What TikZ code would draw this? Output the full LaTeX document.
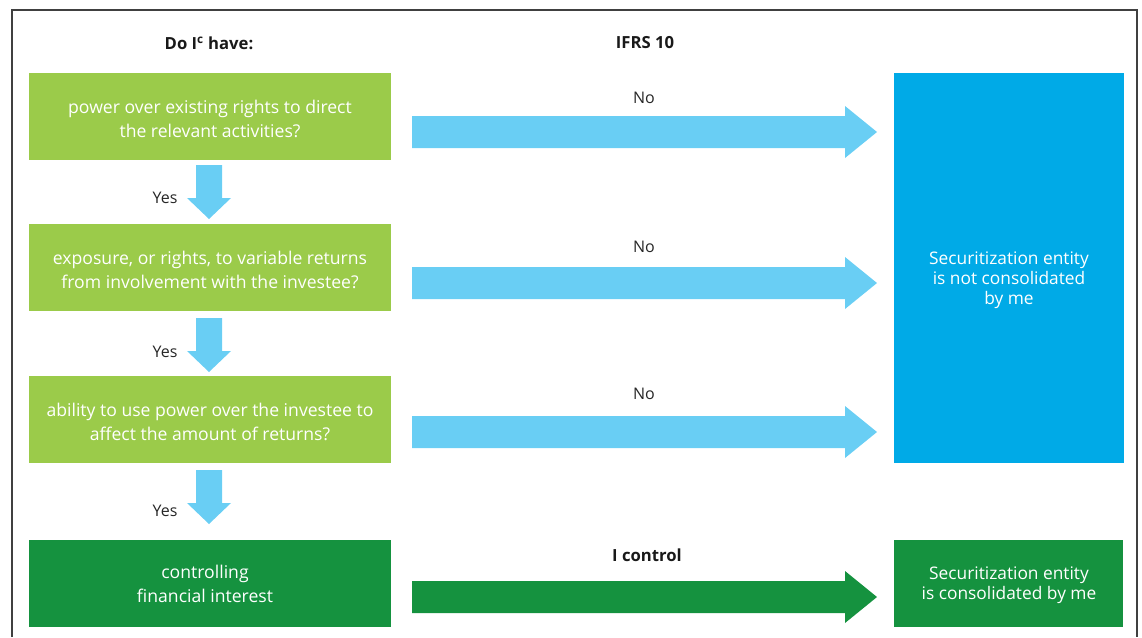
\documentclass[tikz,border=0pt]{standalone}
\usepackage{fontspec}
\setmainfont{Open Sans}
\begin{document}
\begin{tikzpicture}[x=0.75pt,y=-0.75pt,
  qbox/.style={fill=lgreen, inner sep=0pt, minimum width=271.5pt, minimum height=65.25pt},
  qtext/.style={text=white, font=\fontsize{13.2}{18}\selectfont, align=center, inner sep=0pt},
  rtext/.style={text=white, font=\fontsize{13}{14.8}\selectfont, align=center, inner sep=0pt},
  lbl/.style={font=\fontsize{12}{13}\selectfont, text=black!85, inner sep=0pt},
  hdr/.style={font=\bfseries\fontsize{12.5}{13}\selectfont, text=black!90, inner sep=0pt}]
\definecolor{lgreen}{HTML}{9BCB4A}
\definecolor{dgreen}{HTML}{15923F}
\definecolor{cblue}{HTML}{00AAE7}
\definecolor{ablue}{HTML}{69CEF4}
\useasboundingbox (0,0) rectangle (1142,637);
% frame
\draw[line width=1.1pt, black!75] (12,637) -- (12,10) -- (1137,10) -- (1137,637);
% headers
\node[hdr] (h1) at (209,43) {Do I\textsuperscript{c} have:};
\node[hdr] (h2) at (645,43) {IFRS 10};
% question boxes
\node[qbox] (q1) at (210,116.5) {};
\node[qtext] (q1t) at (210,119) {power over existing rights to direct\\the relevant activities?};
\node[qbox] (q2) at (210,267.5) {};
\node[qtext] (q2t) at (210,270) {exposure, or rights, to variable returns\\from involvement with the investee?};
\node[qbox] (q3) at (210,419.5) {};
\node[qtext] (q3t) at (210,422) {ability to use power over the investee to\\affect the amount of returns?};
\node[qbox, fill=dgreen] (q4) at (210,583.5) {};
\node[qtext] (q4t) at (205,584) {controlling\\financial interest};
% result boxes
\node[fill=cblue, inner sep=0pt, minimum width=172.5pt, minimum height=292.5pt] (r1) at (1009,268) {};
\node[rtext] (r1t) at (1009,280) {Securitization entity\\is not consolidated\\by me};
\node[fill=dgreen, inner sep=0pt, minimum width=171.75pt, minimum height=65.25pt] (r2) at (1008.5,583.5) {};
\node[rtext] (r2t) at (1009,585) {Securitization entity\\is consolidated by me};
% horizontal arrows
\foreach \yc/\col in {132/ablue, 283/ablue, 432/ablue, 597/dgreen}{
  \fill[\col] (412,\yc-16) -- (845,\yc-16) -- (845,\yc-26) -- (877,\yc) -- (845,\yc+26) -- (845,\yc+16) -- (412,\yc+16) -- cycle;
}
% vertical arrows
\foreach \yt in {165,318,470}{
  \fill[ablue] (196,\yt) -- (222,\yt) -- (222,\yt+33) -- (231,\yt+33) -- (209,\yt+54) -- (187,\yt+33) -- (196,\yt+33) -- cycle;
}
% labels
\node[lbl] (n1) at (644,98) {No};
\node[lbl] (n2) at (644,247) {No};
\node[lbl] (n3) at (644,394) {No};
\node[hdr] (n4) at (647,555) {I control};
\node[lbl] (y1) at (165,198) {Yes};
\node[lbl] (y2) at (165,352) {Yes};
\node[lbl] (y3) at (165,511) {Yes};
\end{tikzpicture}
\end{document}
